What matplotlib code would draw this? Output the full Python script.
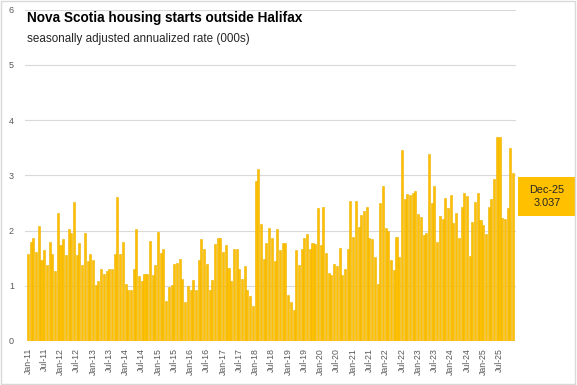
import matplotlib
matplotlib.use("Agg")
import numpy as np
import matplotlib.pyplot as plt
from matplotlib.patches import Rectangle

# monthly values, Jan-11 .. Dec-25 (000s, SAAR)
y2011 = [1.57, 1.80, 1.86, 1.62, 2.09, 1.46, 1.64, 1.37, 1.80, 1.57, 1.26, 2.31]
y2012 = [1.73, 1.84, 1.55, 2.02, 1.96, 2.51, 1.55, 1.77, 1.37, 1.96, 1.44, 1.57]
y2013 = [1.46, 1.01, 1.08, 1.30, 1.22, 1.26, 1.30, 1.30, 1.58, 2.60, 1.57, 1.80]
y2014 = [1.04, 0.93, 0.92, 1.30, 2.02, 1.17, 1.08, 1.22, 1.22, 1.82, 1.20, 1.37]
y2015 = [1.98, 1.60, 1.66, 0.72, 0.97, 1.01, 1.39, 1.42, 1.49, 1.13, 0.70, 0.99]
y2016 = [0.92, 1.10, 0.92, 1.46, 1.84, 1.67, 1.40, 0.92, 1.11, 1.75, 1.87, 1.86]
y2017 = [1.62, 1.73, 1.33, 1.08, 1.66, 1.66, 1.31, 1.13, 1.35, 0.93, 0.81, 0.63]
y2018 = [2.89, 3.12, 2.11, 1.48, 1.77, 2.05, 1.86, 1.44, 2.02, 1.64, 1.78, 1.78]
y2019 = [0.83, 0.70, 0.57, 1.64, 1.37, 1.66, 1.86, 1.93, 1.67, 1.77, 1.75, 2.40]
y2020 = [1.73, 2.42, 1.60, 1.24, 1.20, 1.39, 1.35, 1.69, 1.19, 1.30, 1.67, 2.54]
y2021 = [1.89, 2.54, 2.07, 2.29, 2.36, 2.42, 1.87, 1.84, 1.53, 1.04, 2.50, 2.81]
y2022 = [2.05, 1.99, 1.47, 1.29, 1.88, 1.52, 3.46, 2.57, 2.66, 2.64, 2.68, 2.72]
y2023 = [2.30, 2.25, 1.92, 1.96, 3.39, 2.50, 2.81, 1.79, 2.26, 2.21, 2.59, 2.41]
y2024 = [2.64, 2.14, 2.32, 1.86, 2.43, 2.68, 2.63, 1.54, 2.15, 2.52, 2.68, 2.19]
y2025 = [2.10, 1.94, 2.43, 2.57, 2.93, 3.69, 3.69, 2.23, 2.21, 2.41, 3.49, 3.037]

starts = (y2011 + y2012 + y2013 + y2014 + y2015 + y2016 + y2017 + y2018 +
          y2019 + y2020 + y2021 + y2022 + y2023 + y2024 + y2025)

years = ['11', '12', '13', '14', '15', '16', '17', '18',
         '19', '20', '21', '22', '23', '24', '25']
tick_labels = [m + '-' + yy for yy in years for m in ['Jan', 'Jul']]
last_label = 'Dec-25'

plt.rcParams['font.family'] = ['Liberation Sans', 'DejaVu Sans']

fig = plt.figure(figsize=(5.77, 3.85), dpi=100)
ax = fig.add_axes([25 / 577, 1 - 341 / 385, 491 / 577, 331.3 / 385])

x = np.arange(len(starts))
ax.bar(x, starts, width=0.76, color='#FFC000', edgecolor='#EDB200',
       linewidth=0.4, zorder=2)

ax.set_xlim(-1.1, len(starts) + 0.1)
ax.set_ylim(0, 6)
ax.set_yticks(range(0, 7))
ax.yaxis.grid(True, color='#D9D9D9', linewidth=0.8, zorder=0)
ax.set_axisbelow(True)
for s in ax.spines.values():
    s.set_visible(False)

ax.set_xticks(x[::6])
ax.set_xticklabels(tick_labels, rotation=90)
ax.tick_params(axis='x', length=0, pad=5, labelsize=6.3, labelcolor='#595959')
ax.tick_params(axis='y', length=0, pad=8, labelsize=6.5, labelcolor='#595959')

fig.text(27 / 577, 1 - 18 / 385, 'Nova Scotia housing starts outside Halifax',
         fontsize=9.8, fontweight='bold', va='center', ha='left')
fig.text(27 / 577, 1 - 39 / 385, 'seasonally adjusted annualized rate (000s)',
         fontsize=8.4, va='center', ha='left', color='#262626')

# data label for the latest month
fig.patches.append(Rectangle((518 / 577, 1 - 216 / 385), 58 / 577, 39 / 385,
                             transform=fig.transFigure, facecolor='#FFC000',
                             edgecolor='none'))
fig.text(547 / 577, 1 - 196.5 / 385, last_label + '\n' + f'{starts[-1]:.3f}',
         ha='center', va='center', fontsize=7.8, color='#262626',
         linespacing=1.3)

# chart border
fig.patches.append(Rectangle((0.002, 0.003), 0.995, 0.994, transform=fig.transFigure,
                             fill=False, edgecolor='#D9D9D9', linewidth=1))

fig.savefig('out.png', dpi=100)
